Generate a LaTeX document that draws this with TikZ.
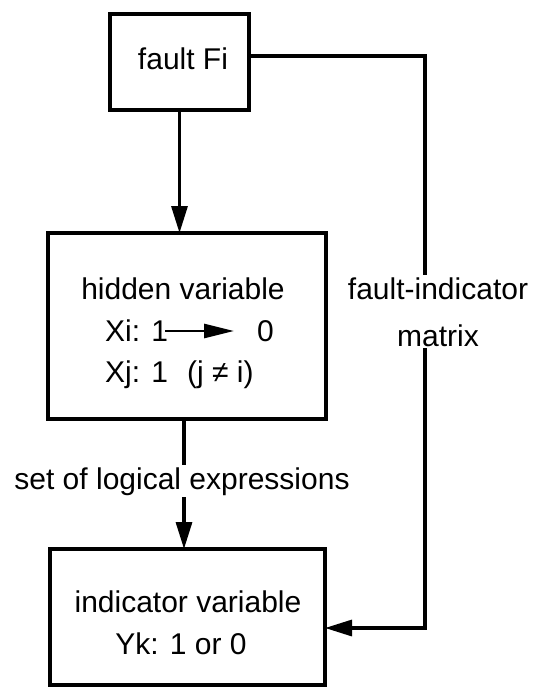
\documentclass[tikz,border=0pt]{standalone}
\usepackage{fontspec}
\setmainfont{Liberation Sans}
\usetikzlibrary{arrows.meta}
\begin{document}
\begin{tikzpicture}[x=1pt,y=-1pt,
  box/.style={draw, line width=3.2pt, inner sep=0pt, outer sep=0pt},
  txt/.style={font=\fontsize{30}{47}\selectfont, inner sep=0pt},
  conn/.style={line width=3.2pt, -{Triangle[length=27pt,width=16pt]}},
  small arrow/.style={line width=2.8pt, -{Triangle[length=30pt,width=14pt]}},
  cover/.style={fill=white, inner sep=2pt}]
\useasboundingbox (0,0) rectangle (536,688);

% the three boxes
\node[box, minimum width=139pt, minimum height=96pt]  (A) at (179.5,62) {};
\node[box, minimum width=278pt, minimum height=186pt] (B) at (187,326) {};
\node[box, minimum width=275pt, minimum height=136pt] (C) at (187.5,617) {};

% box texts
\node[txt, anchor=base] (fi) at (183,69) {fault Fi};

\node[txt, anchor=base] (hv) at (183,299) {hidden variable};
\node[txt, anchor=base west] (xi) at (105,341) {Xi: 1};
\node[txt, anchor=base west] (xz) at (257,341) {0};
\coordinate (xa) at (165,331);
\coordinate (xb) at (234,331);
\draw[small arrow] (xa) -- (xb);
\node[txt, anchor=base west] (xj) at (105,382) {Xj: 1};
\node[txt, anchor=base west] (ne) at (187,382) {(j ≠ i)};

\node[txt, anchor=base] (iv) at (188,612) {indicator variable};
\node[txt, anchor=base] (yk) at (181,654) {Yk: 1 or 0};

% fault -> hidden variable
\draw[conn] (A.south) -- (A.south |- B.north);

% hidden variable -> indicator variable, through the label
\coordinate (bc) at (184,0);
\draw[conn] (B.south -| bc) -- (C.north -| bc);
\node[txt, cover, anchor=base] (le) at (182,489) {set of logical expressions};

% fault -> indicator variable along the right side
\draw[conn] ([yshift=6pt]A.east) -- ++(176,0) |- ([yshift=-11pt]C.east);
\node[txt, cover, align=center, anchor=base] (fm) at (438,346) {fault-indicator\\matrix};
\end{tikzpicture}
\end{document}
